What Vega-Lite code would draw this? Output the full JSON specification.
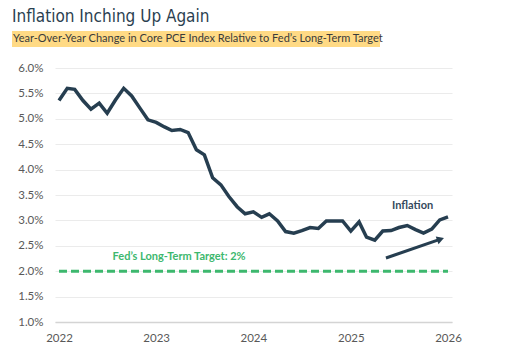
{
  "$schema": "https://vega.github.io/schema/vega-lite/v6.json",
  "background": "white",
  "padding": {"left": 12, "top": 8, "right": 5, "bottom": 5},
  "title": {"text": "Inflation Inching Up Again", "anchor": "start", "font": "DejaVu Sans Condensed, Roboto, sans-serif", "fontSize": 17, "fontWeight": "normal", "color": "#2B3F51", "offset": 5},
  "config": {"view": {"stroke": null}, "font": "Lato"},
  "columns": 1,
  "align": "none",
  "bounds": "full",
  "spacing": 15,
  "datasets": {
    "pce": [
      {"date": "2022-01-01", "v": 5.36}, {"date": "2022-02-01", "v": 5.60}, {"date": "2022-03-01", "v": 5.58},
      {"date": "2022-04-01", "v": 5.36}, {"date": "2022-05-01", "v": 5.19}, {"date": "2022-06-01", "v": 5.31},
      {"date": "2022-07-01", "v": 5.11}, {"date": "2022-08-01", "v": 5.37}, {"date": "2022-09-01", "v": 5.60},
      {"date": "2022-10-01", "v": 5.45}, {"date": "2022-11-01", "v": 5.21}, {"date": "2022-12-01", "v": 4.98},
      {"date": "2023-01-01", "v": 4.93}, {"date": "2023-02-01", "v": 4.84}, {"date": "2023-03-01", "v": 4.77},
      {"date": "2023-04-01", "v": 4.79}, {"date": "2023-05-01", "v": 4.73}, {"date": "2023-06-01", "v": 4.39},
      {"date": "2023-07-01", "v": 4.29}, {"date": "2023-08-01", "v": 3.84}, {"date": "2023-09-01", "v": 3.70},
      {"date": "2023-10-01", "v": 3.47}, {"date": "2023-11-01", "v": 3.27}, {"date": "2023-12-01", "v": 3.13},
      {"date": "2024-01-01", "v": 3.17}, {"date": "2024-02-01", "v": 3.06}, {"date": "2024-03-01", "v": 3.13},
      {"date": "2024-04-01", "v": 2.99}, {"date": "2024-05-01", "v": 2.78}, {"date": "2024-06-01", "v": 2.75},
      {"date": "2024-07-01", "v": 2.80}, {"date": "2024-08-01", "v": 2.86}, {"date": "2024-09-01", "v": 2.84},
      {"date": "2024-10-01", "v": 2.99}, {"date": "2024-11-01", "v": 2.99}, {"date": "2024-12-01", "v": 2.99},
      {"date": "2025-01-01", "v": 2.79}, {"date": "2025-02-01", "v": 2.97}, {"date": "2025-03-01", "v": 2.67},
      {"date": "2025-04-01", "v": 2.61}, {"date": "2025-05-01", "v": 2.79}, {"date": "2025-06-01", "v": 2.80},
      {"date": "2025-07-01", "v": 2.86}, {"date": "2025-08-01", "v": 2.90}, {"date": "2025-09-01", "v": 2.82},
      {"date": "2025-10-01", "v": 2.75}, {"date": "2025-11-01", "v": 2.83}, {"date": "2025-12-01", "v": 3.01},
      {"date": "2026-01-01", "v": 3.07}
    ],
    "target": [{"date": "2022-01-01", "v": 2}, {"date": "2026-01-01", "v": 2}],
    "labels": [
      {"date": "2023-03-28", "v": 2.28, "t": "Fed’s Long-Term Target: 2%", "kind": "target"},
      {"date": "2025-08-21", "v": 3.29, "t": "Inflation", "kind": "inflation"}
    ],
    "arrow": [{"date": "2025-05-13", "v": 2.26, "date2": "2025-12-04", "v2": 2.63}],
    "subtitle": [{"t": "Year-Over-Year Change in Core PCE Index Relative to Fed’s Long-Term Target", "a": 0, "b": 1}]
  },
  "concat": [
    {
      "width": 325,
      "height": 16,
      "data": {"name": "subtitle"},
      "layer": [
        {
          "mark": {"type": "rect", "color": "#FFDA85", "opacity": 1},
          "encoding": {
            "x": {"field": "a", "type": "quantitative", "scale": {"domain": [0, 1], "range": [-43, 325]}, "axis": null},
            "x2": {"field": "b"}
          }
        },
        {
          "mark": {"type": "text", "font": "Lato", "fontSize": 11, "color": "#3A3A3A", "align": "left", "dx": 1},
          "encoding": {
            "x": {"field": "a", "type": "quantitative"},
            "text": {"field": "t"}
          }
        }
      ]
    },
    {
      "width": 397,
      "height": 254,
      "layer": [
        {
          "data": {"name": "pce"},
          "mark": {"type": "line", "color": "#263E50", "strokeWidth": 3.5, "strokeJoin": "miter"},
          "encoding": {
            "x": {
              "field": "date", "type": "temporal", "title": null,
              "scale": {"type": "utc", "domain": ["2022-01-01", "2026-01-01"], "nice": false, "padding": 4},
              "axis": {"values": ["2022-01-01", "2023-01-01", "2024-01-01", "2025-01-01", "2026-01-01"], "tickCount": 5, "format": "%Y", "grid": false, "ticks": false, "domain": true, "domainColor": "#D4D4D4", "domainWidth": 1.5, "labelColor": "#595959", "labelFontSize": 11.5, "labelPadding": 10, "labelFlush": false}
            },
            "y": {
              "field": "v", "type": "quantitative", "title": null,
              "scale": {"domain": [1, 6], "nice": false, "zero": false},
              "axis": {"values": [1, 1.5, 2, 2.5, 3, 3.5, 4, 4.5, 5, 5.5, 6], "tickCount": 11, "labelExpr": "format(datum.value, '.1f') + '%'", "labelOverlap": false, "grid": true, "gridColor": "#EBEBEB", "gridWidth": 1.2, "domain": false, "ticks": false, "labelColor": "#595959", "labelFontSize": 11.5, "labelPadding": 12, "minExtent": 43}
            }
          }
        },
        {
          "data": {"name": "target"},
          "mark": {"type": "line", "color": "#3DB86E", "strokeWidth": 3, "strokeDash": [8, 4]},
          "encoding": {
            "x": {"field": "date", "type": "temporal"},
            "y": {"field": "v", "type": "quantitative"}
          }
        },
        {
          "data": {"name": "labels"},
          "mark": {"type": "text", "fontSize": 11, "fontWeight": "bold"},
          "encoding": {
            "x": {"field": "date", "type": "temporal"},
            "y": {"field": "v", "type": "quantitative"},
            "text": {"field": "t"},
            "color": {"field": "kind", "type": "nominal", "scale": {"domain": ["target", "inflation"], "range": ["#3DB86E", "#34495C"]}, "legend": null}
          }
        },
        {
          "data": {"name": "arrow"},
          "mark": {"type": "rule", "color": "#263E50", "strokeWidth": 3},
          "encoding": {
            "x": {"field": "date", "type": "temporal"},
            "y": {"field": "v", "type": "quantitative"},
            "x2": {"field": "date2"},
            "y2": {"field": "v2"}
          }
        },
        {
          "data": {"name": "arrow"},
          "mark": {"type": "point", "shape": "triangle-right", "filled": true, "color": "#263E50", "opacity": 1, "size": 70, "angle": -19},
          "encoding": {
            "x": {"field": "date2", "type": "temporal"},
            "y": {"field": "v2", "type": "quantitative"}
          }
        }
      ]
    }
  ]
}
